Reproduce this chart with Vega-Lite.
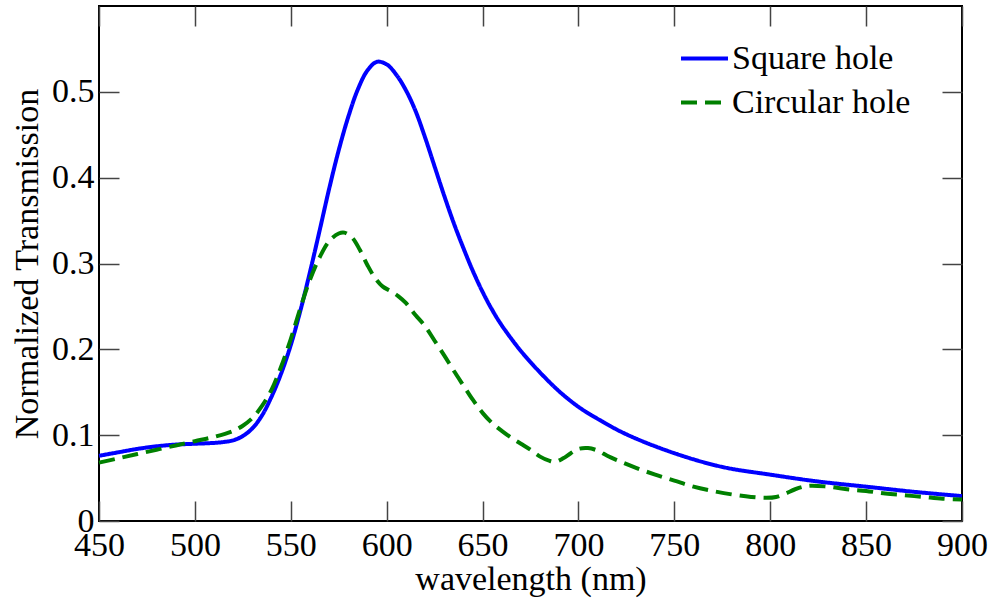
{
  "$schema": "https://vega.github.io/schema/vega-lite/v6.json",
  "width": 863,
  "height": 515,
  "autosize": {"type": "none"},
  "padding": {"left": 99, "top": 6, "right": 34, "bottom": 77},
  "background": "white",
  "config": {
    "view": {"stroke": "black", "strokeWidth": 2},
    "font": "Liberation Serif",
    "axis": {
      "domain": false,
      "grid": false,
      "tickSize": -20,
      "tickColor": "#444444",
      "tickWidth": 1.5,
      "labelFont": "Liberation Serif",
      "labelFontSize": 34,
      "labelColor": "black",
      "titleFont": "Liberation Serif",
      "titleFontSize": 34,
      "titleFontWeight": "normal",
      "titleColor": "black"
    },
    "legend": {
      "labelFont": "Liberation Serif",
      "labelFontSize": 34,
      "labelColor": "black",
      "labelLimit": 400
    }
  },
  "data": {
    "values": [
      {"wl": 450, "T": 0.076, "s": "Square hole"},
      {"wl": 460, "T": 0.080, "s": "Square hole"},
      {"wl": 470, "T": 0.084, "s": "Square hole"},
      {"wl": 480, "T": 0.087, "s": "Square hole"},
      {"wl": 490, "T": 0.089, "s": "Square hole"},
      {"wl": 500, "T": 0.090, "s": "Square hole"},
      {"wl": 510, "T": 0.091, "s": "Square hole"},
      {"wl": 515, "T": 0.092, "s": "Square hole"},
      {"wl": 520, "T": 0.094, "s": "Square hole"},
      {"wl": 525, "T": 0.099, "s": "Square hole"},
      {"wl": 530, "T": 0.108, "s": "Square hole"},
      {"wl": 535, "T": 0.123, "s": "Square hole"},
      {"wl": 540, "T": 0.145, "s": "Square hole"},
      {"wl": 545, "T": 0.172, "s": "Square hole"},
      {"wl": 550, "T": 0.205, "s": "Square hole"},
      {"wl": 555, "T": 0.245, "s": "Square hole"},
      {"wl": 560, "T": 0.290, "s": "Square hole"},
      {"wl": 565, "T": 0.338, "s": "Square hole"},
      {"wl": 570, "T": 0.387, "s": "Square hole"},
      {"wl": 575, "T": 0.432, "s": "Square hole"},
      {"wl": 580, "T": 0.471, "s": "Square hole"},
      {"wl": 585, "T": 0.503, "s": "Square hole"},
      {"wl": 590, "T": 0.525, "s": "Square hole"},
      {"wl": 595, "T": 0.535, "s": "Square hole"},
      {"wl": 600, "T": 0.532, "s": "Square hole"},
      {"wl": 605, "T": 0.520, "s": "Square hole"},
      {"wl": 610, "T": 0.502, "s": "Square hole"},
      {"wl": 615, "T": 0.478, "s": "Square hole"},
      {"wl": 620, "T": 0.447, "s": "Square hole"},
      {"wl": 625, "T": 0.413, "s": "Square hole"},
      {"wl": 630, "T": 0.379, "s": "Square hole"},
      {"wl": 635, "T": 0.347, "s": "Square hole"},
      {"wl": 640, "T": 0.318, "s": "Square hole"},
      {"wl": 645, "T": 0.291, "s": "Square hole"},
      {"wl": 650, "T": 0.267, "s": "Square hole"},
      {"wl": 655, "T": 0.246, "s": "Square hole"},
      {"wl": 660, "T": 0.228, "s": "Square hole"},
      {"wl": 670, "T": 0.198, "s": "Square hole"},
      {"wl": 680, "T": 0.173, "s": "Square hole"},
      {"wl": 690, "T": 0.151, "s": "Square hole"},
      {"wl": 700, "T": 0.133, "s": "Square hole"},
      {"wl": 710, "T": 0.119, "s": "Square hole"},
      {"wl": 725, "T": 0.101, "s": "Square hole"},
      {"wl": 750, "T": 0.079, "s": "Square hole"},
      {"wl": 775, "T": 0.063, "s": "Square hole"},
      {"wl": 800, "T": 0.054, "s": "Square hole"},
      {"wl": 825, "T": 0.046, "s": "Square hole"},
      {"wl": 850, "T": 0.040, "s": "Square hole"},
      {"wl": 875, "T": 0.034, "s": "Square hole"},
      {"wl": 900, "T": 0.029, "s": "Square hole"},
      {"wl": 450, "T": 0.068, "s": "Circular hole"},
      {"wl": 460, "T": 0.073, "s": "Circular hole"},
      {"wl": 470, "T": 0.078, "s": "Circular hole"},
      {"wl": 480, "T": 0.083, "s": "Circular hole"},
      {"wl": 490, "T": 0.088, "s": "Circular hole"},
      {"wl": 500, "T": 0.093, "s": "Circular hole"},
      {"wl": 510, "T": 0.098, "s": "Circular hole"},
      {"wl": 520, "T": 0.105, "s": "Circular hole"},
      {"wl": 525, "T": 0.111, "s": "Circular hole"},
      {"wl": 530, "T": 0.120, "s": "Circular hole"},
      {"wl": 535, "T": 0.134, "s": "Circular hole"},
      {"wl": 540, "T": 0.153, "s": "Circular hole"},
      {"wl": 545, "T": 0.180, "s": "Circular hole"},
      {"wl": 550, "T": 0.212, "s": "Circular hole"},
      {"wl": 555, "T": 0.248, "s": "Circular hole"},
      {"wl": 560, "T": 0.281, "s": "Circular hole"},
      {"wl": 565, "T": 0.307, "s": "Circular hole"},
      {"wl": 570, "T": 0.326, "s": "Circular hole"},
      {"wl": 575, "T": 0.335, "s": "Circular hole"},
      {"wl": 578, "T": 0.336, "s": "Circular hole"},
      {"wl": 582, "T": 0.330, "s": "Circular hole"},
      {"wl": 586, "T": 0.316, "s": "Circular hole"},
      {"wl": 590, "T": 0.298, "s": "Circular hole"},
      {"wl": 594, "T": 0.283, "s": "Circular hole"},
      {"wl": 598, "T": 0.273, "s": "Circular hole"},
      {"wl": 602, "T": 0.268, "s": "Circular hole"},
      {"wl": 606, "T": 0.262, "s": "Circular hole"},
      {"wl": 610, "T": 0.254, "s": "Circular hole"},
      {"wl": 615, "T": 0.240, "s": "Circular hole"},
      {"wl": 620, "T": 0.227, "s": "Circular hole"},
      {"wl": 625, "T": 0.210, "s": "Circular hole"},
      {"wl": 630, "T": 0.193, "s": "Circular hole"},
      {"wl": 635, "T": 0.175, "s": "Circular hole"},
      {"wl": 640, "T": 0.158, "s": "Circular hole"},
      {"wl": 645, "T": 0.141, "s": "Circular hole"},
      {"wl": 650, "T": 0.126, "s": "Circular hole"},
      {"wl": 655, "T": 0.114, "s": "Circular hole"},
      {"wl": 660, "T": 0.105, "s": "Circular hole"},
      {"wl": 665, "T": 0.097, "s": "Circular hole"},
      {"wl": 670, "T": 0.090, "s": "Circular hole"},
      {"wl": 675, "T": 0.083, "s": "Circular hole"},
      {"wl": 680, "T": 0.075, "s": "Circular hole"},
      {"wl": 685, "T": 0.070, "s": "Circular hole"},
      {"wl": 688, "T": 0.069, "s": "Circular hole"},
      {"wl": 692, "T": 0.073, "s": "Circular hole"},
      {"wl": 696, "T": 0.079, "s": "Circular hole"},
      {"wl": 700, "T": 0.084, "s": "Circular hole"},
      {"wl": 705, "T": 0.085, "s": "Circular hole"},
      {"wl": 710, "T": 0.082, "s": "Circular hole"},
      {"wl": 715, "T": 0.076, "s": "Circular hole"},
      {"wl": 720, "T": 0.071, "s": "Circular hole"},
      {"wl": 730, "T": 0.062, "s": "Circular hole"},
      {"wl": 740, "T": 0.054, "s": "Circular hole"},
      {"wl": 750, "T": 0.047, "s": "Circular hole"},
      {"wl": 760, "T": 0.040, "s": "Circular hole"},
      {"wl": 770, "T": 0.035, "s": "Circular hole"},
      {"wl": 780, "T": 0.031, "s": "Circular hole"},
      {"wl": 790, "T": 0.028, "s": "Circular hole"},
      {"wl": 798, "T": 0.027, "s": "Circular hole"},
      {"wl": 803, "T": 0.028, "s": "Circular hole"},
      {"wl": 808, "T": 0.032, "s": "Circular hole"},
      {"wl": 813, "T": 0.037, "s": "Circular hole"},
      {"wl": 820, "T": 0.041, "s": "Circular hole"},
      {"wl": 830, "T": 0.040, "s": "Circular hole"},
      {"wl": 840, "T": 0.037, "s": "Circular hole"},
      {"wl": 850, "T": 0.035, "s": "Circular hole"},
      {"wl": 860, "T": 0.032, "s": "Circular hole"},
      {"wl": 870, "T": 0.030, "s": "Circular hole"},
      {"wl": 880, "T": 0.028, "s": "Circular hole"},
      {"wl": 890, "T": 0.026, "s": "Circular hole"},
      {"wl": 900, "T": 0.025, "s": "Circular hole"}
    ]
  },
  "layer": [
    {
      "transform": [{"filter": "datum.s === 'Square hole'"}],
      "mark": {"type": "line", "strokeWidth": 4, "interpolate": "catmull-rom"},
      "encoding": {
        "x": {
          "field": "wl", "type": "quantitative",
          "scale": {"domain": [450, 900], "nice": false, "zero": false},
          "axis": {
            "orient": "bottom",
            "values": [450, 500, 550, 600, 650, 700, 750, 800, 850, 900],
            "labelFlush": false,
            "labelPadding": 27,
            "titlePadding": 0,
            "title": "wavelength (nm)"
          }
        },
        "y": {
          "field": "T", "type": "quantitative",
          "scale": {"domain": [0, 0.6], "nice": false},
          "axis": {
            "orient": "left",
            "values": [0, 0.1, 0.2, 0.3, 0.4, 0.5],
            "labelExpr": "datum.value == 0 ? '0' : format(datum.value, '.1f')",
            "labelFlush": false,
            "labelPadding": 25,
            "titlePadding": 7,
            "title": "Normalized Transmission"
          }
        },
        "color": {
          "field": "s", "type": "nominal",
          "scale": {"domain": ["Square hole", "Circular hole"], "range": ["#0000ff", "#008000"]},
          "legend": {
            "title": null,
            "orient": "none",
            "legendX": 580,
            "legendY": 27,
            "padding": 0,
            "symbolType": "stroke",
            "symbolSize": 2209,
            "symbolStrokeWidth": 4,
            "labelOffset": 2,
            "rowPadding": 1
          }
        },
        "strokeDash": {
          "field": "s", "type": "nominal",
          "scale": {"domain": ["Square hole", "Circular hole"], "range": [[1, 0], [16, 8]]},
          "legend": {
            "title": null,
            "orient": "none",
            "legendX": 580,
            "legendY": 27,
            "padding": 0,
            "symbolType": "stroke",
            "symbolSize": 2209,
            "symbolStrokeWidth": 4,
            "labelOffset": 2,
            "rowPadding": 1
          }
        }
      }
    },
    {
      "transform": [{"filter": "datum.s === 'Circular hole'"}],
      "mark": {"type": "line", "strokeWidth": 4, "interpolate": "catmull-rom"},
      "encoding": {
        "x": {
          "field": "wl", "type": "quantitative",
          "axis": {
            "orient": "top",
            "values": [450, 500, 550, 600, 650, 700, 750, 800, 850, 900],
            "labels": false,
            "title": null
          }
        },
        "y": {
          "field": "T", "type": "quantitative",
          "axis": {
            "orient": "right",
            "values": [0, 0.1, 0.2, 0.3, 0.4, 0.5],
            "labels": false,
            "title": null
          }
        },
        "color": {"field": "s", "type": "nominal"},
        "strokeDash": {"field": "s", "type": "nominal"}
      }
    }
  ]
}
